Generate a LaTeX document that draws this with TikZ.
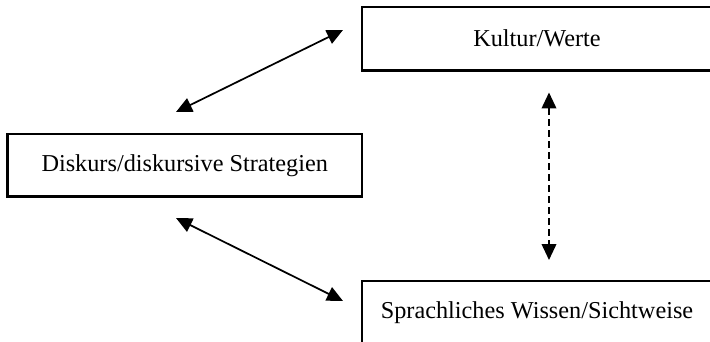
\documentclass[tikz,border=0pt]{standalone}
\usepackage{fontspec}
\setmainfont{Liberation Serif}
\usetikzlibrary{arrows.meta}
\begin{document}
\begin{tikzpicture}[x=0.75pt,y=-0.75pt,
  box/.style={draw,line width=1.7pt,rectangle,inner sep=0pt,
    font=\fontsize{18.2pt}{21pt}\selectfont},
  link/.style={line width=1.3pt,{Triangle[length=12pt,width=11pt]}-{Triangle[length=12pt,width=11pt]}},
  dlink/.style={link,dash pattern=on 5.25pt off 3pt}]
\useasboundingbox (0,0) rectangle (710,342);
\clip (0,0) rectangle (710,342);
\node[box,minimum width=262pt,minimum height=47.6pt] (k) at (537,38.75) {Kultur/Werte};
\node[box,minimum width=265.9pt,minimum height=46.9pt] (d) at (184.75,165.25) {Diskurs/diskursive Strategien};
\node[box,minimum width=262pt,minimum height=47.6pt] (s) at (537,312.75) {Sprachliches Wissen/Sichtweise};
\coordinate (a1) at (176,112);
\coordinate (a2) at (343,30);
\coordinate (b1) at (176,218);
\coordinate (b2) at (343,301);
\coordinate (c1) at (549,92.5);
\coordinate (c2) at (549,260);
\draw[link] (a1) -- (a2);
\draw[link] (b1) -- (b2);
\draw[dlink] (c1) -- (c2);
\end{tikzpicture}
\end{document}
